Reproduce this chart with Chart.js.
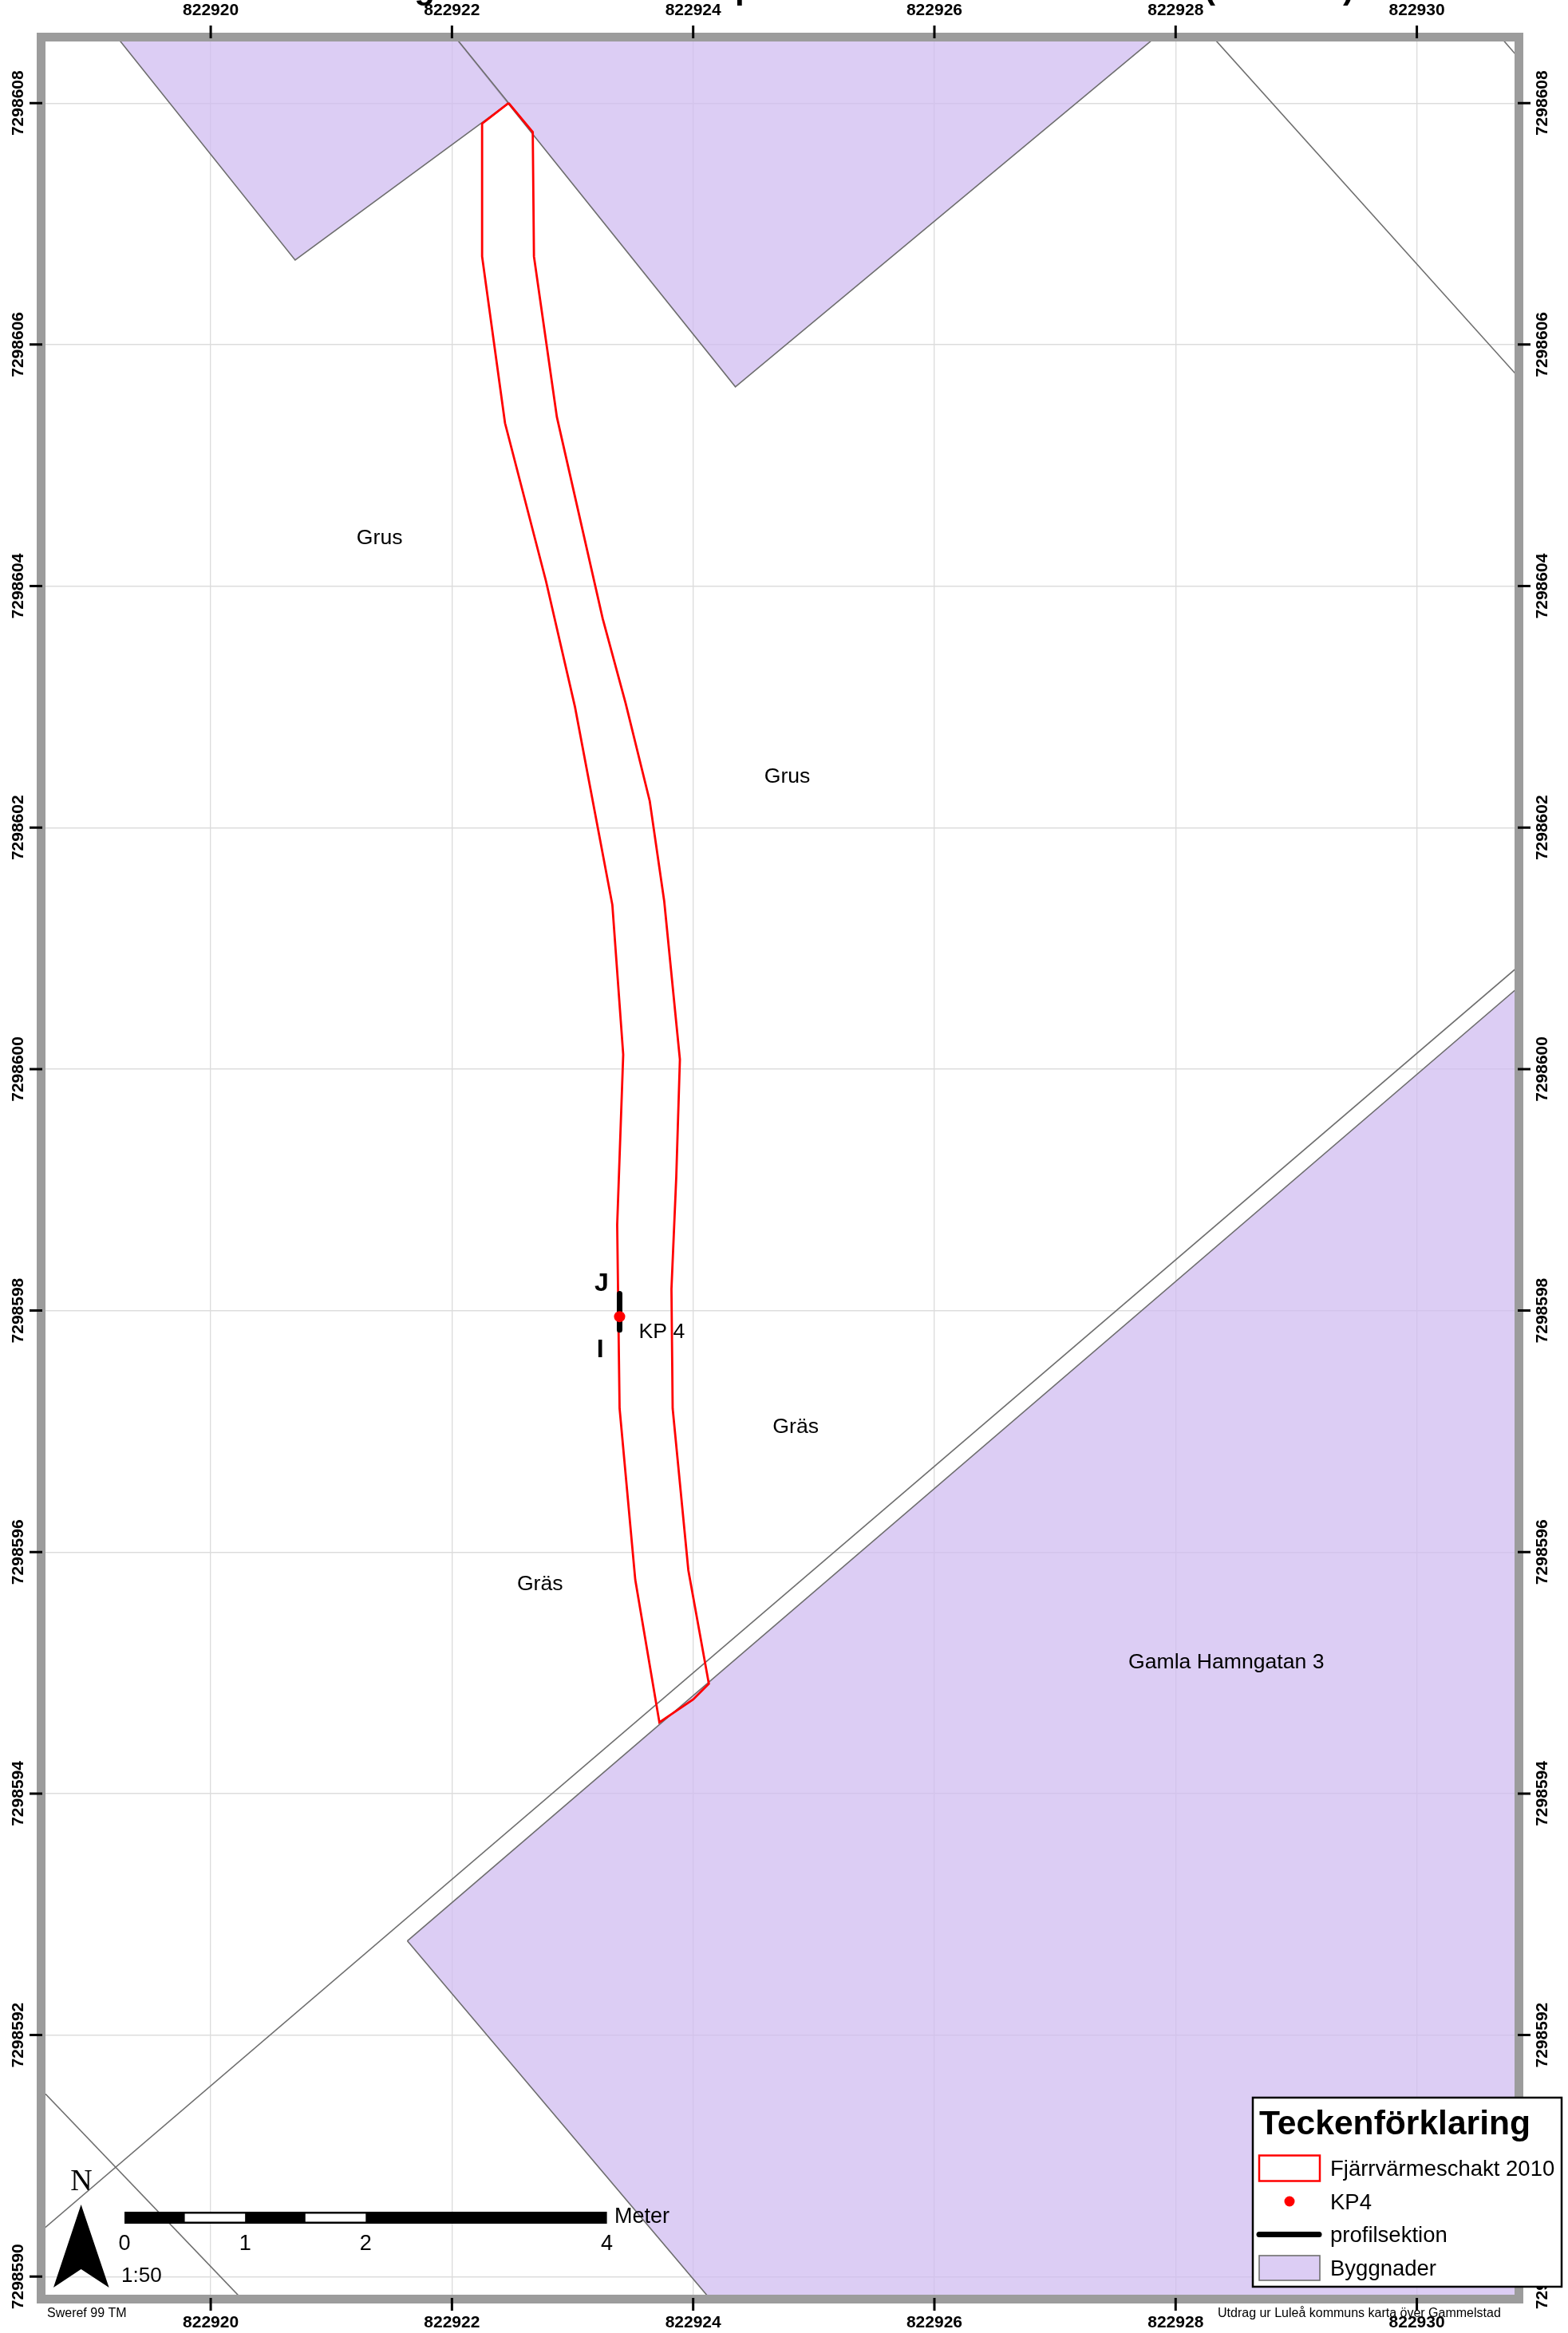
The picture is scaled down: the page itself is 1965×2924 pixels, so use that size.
<!DOCTYPE html>
<html>

<head>
    <meta charset="utf-8">
    <title>Teckenförklaring</title>
    <script src="https://cdn.jsdelivr.net/npm/chart.js@4"></script>
    <style>
        html, body { margin: 0; padding: 0; background: #fff; }
        canvas { display: block; }
    </style>
</head>

<body>
    <canvas id="karta" width="1965" height="2924"></canvas>

    <script>
        var xTicks = [822920, 822922, 822924, 822926, 822928, 822930];
        var yTicks = [7298590, 7298592, 7298594, 7298596, 7298598, 7298600, 7298602, 7298604, 7298606, 7298608];

        // schaktet, medurs fran toppen
        var schaktX = [822922.47, 822922.67, 822922.68, 822922.87, 822923.25, 822923.44, 822923.64, 822923.76, 822923.89,
            822923.86, 822923.82, 822923.83, 822923.96, 822924.13, 822924.00, 822923.72, 822923.52, 822923.39, 822923.37,
            822923.42, 822923.33, 822923.02, 822922.78, 822922.44, 822922.25, 822922.25, 822922.47];
        var schaktY = [7298608.00, 7298607.76, 7298606.73, 7298605.40, 7298603.73, 7298603.03, 7298602.22, 7298601.39, 7298600.08,
            7298599.11, 7298598.18, 7298597.19, 7298595.85, 7298594.91, 7298594.78, 7298594.59, 7298595.77, 7298597.19, 7298598.71,
            7298600.12, 7298601.36, 7298603.00, 7298604.04, 7298605.35, 7298606.73, 7298607.83, 7298608.00];

        var byggnadVastX = [822918.86, 822920.70, 822922.47, 822921.66, 822918.86];
        var byggnadVastY = [7298609.00, 7298606.70, 7298608.00, 7298609.00, 7298609.00];
        var byggnadMittX = [822921.66, 822924.35, 822928.38, 822921.66];
        var byggnadMittY = [7298609.00, 7298605.65, 7298609.00, 7298609.00];
        var byggnadSydX = [822921.63, 822932.00, 822932.00, 822924.83, 822921.63];
        var byggnadSydY = [7298592.78, 7298601.67, 7298589.00, 7298589.00, 7298592.78];

        var linjeNo1X = [822927.90, 822931.50];
        var linjeNo1Y = [7298609.00, 7298605.00];
        var linjeNo2X = [822930.30, 822931.30];
        var linjeNo2Y = [7298609.00, 7298607.85];
        var linjeDiagX = [822918.00, 822932.00];
        var linjeDiagY = [7298589.87, 7298601.84];
        var linjeSvX = [822918.00, 822921.00];
        var linjeSvY = [7298592.17, 7298589.04];

        var profilX = [822923.39, 822923.39];
        var profilY = [7298598.14, 7298597.84];
        var kpX = [822923.39];
        var kpY = [7298597.95];

        var textNamn = ['Grus', 'Grus', 'Gräs', 'Gräs', 'Gamla Hamngatan 3', 'KP 4'];
        var textX = [822921.40, 822924.78, 822924.85, 822922.73, 822928.42, 822923.74];
        var textY = [7298604.41, 7298602.44, 7298597.05, 7298595.75, 7298595.10, 7298597.84];
        var sektionNamn = ['J', 'I'];
        var sektionX = [822923.24, 822923.23];
        var sektionY = [7298598.24, 7298597.69];

        var legendNamn = ['Fjärrvärmeschakt 2010', 'KP4', 'profilsektion', 'Byggnader'];
        var skalaTal = [0, 1, 2, 4];

        var LILA = 'rgba(208, 188, 240, 0.75)';
        var RAM = '#9c9c9c';
        var LINJE = '#6e6e6e';
        var SANS = '"Liberation Sans", Arial, sans-serif';

        function punkter(xs, ys) {
            return xs.map(function (x, i) { return { x: x, y: ys[i] }; });
        }

        function linje(namn, xs, ys, farg, bredd) {
            return {
                label: namn,
                data: punkter(xs, ys),
                showLine: true,
                borderColor: farg,
                borderWidth: bredd,
                pointRadius: 0,
                fill: false
            };
        }

        function yta(namn, xs, ys) {
            var d = linje(namn, xs, ys, LINJE, 1.6);
            d.backgroundColor = LILA;
            d.fill = 'shape';
            return d;
        }

        var profil = linje(legendNamn[2], profilX, profilY, '#000', 7);
        profil.borderCapStyle = 'round';

        var datasets = [
            {
                label: legendNamn[1],
                data: punkter(kpX, kpY),
                pointRadius: 7,
                pointBackgroundColor: '#ff0000',
                pointBorderWidth: 0
            },
            profil,
            linje(legendNamn[0], schaktX, schaktY, '#ff0000', 2.8),
            linje('linje', linjeNo1X, linjeNo1Y, LINJE, 1.6),
            linje('linje', linjeNo2X, linjeNo2Y, LINJE, 1.6),
            linje('linje', linjeDiagX, linjeDiagY, LINJE, 1.6),
            linje('linje', linjeSvX, linjeSvY, LINJE, 1.6),
            yta(legendNamn[3], byggnadVastX, byggnadVastY),
            yta(legendNamn[3], byggnadMittX, byggnadMittY),
            yta(legendNamn[3], byggnadSydX, byggnadSydY)
        ];

        function axel(position, varden, min, max, storlek, padding) {
            var vertikal = position === 'left' || position === 'right';
            return {
                type: 'linear',
                axis: vertikal ? 'y' : 'x',
                position: position,
                min: min,
                max: max,
                afterBuildTicks: function (scale) {
                    scale.ticks = varden.map(function (v) { return { value: v }; });
                },
                afterFit: function (scale) {
                    if (vertikal) { scale.width = storlek; } else { scale.height = storlek; }
                },
                border: { display: false },
                grid: { color: '#dcdcdc', lineWidth: 1.2, drawTicks: false },
                ticks: {
                    autoSkip: false,
                    color: '#000',
                    font: { family: SANS, size: 21, weight: 'bold' },
                    padding: padding,
                    minRotation: vertikal ? 90 : 0,
                    maxRotation: vertikal ? 90 : 0,
                    crossAlign: vertikal ? 'center' : 'near',
                    callback: function (v) { return String(v); }
                }
            };
        }

        function rakText(ctx, text, x, y, font, align) {
            ctx.font = font;
            ctx.textAlign = align || 'left';
            ctx.textBaseline = 'alphabetic';
            ctx.fillStyle = '#000';
            ctx.fillText(text, x, y);
        }

        var kartRam = {
            id: 'kartRam',
            afterDraw: function (chart) {
                var ctx = chart.ctx;
                var a = chart.chartArea;
                var sx = chart.scales.x;
                var sy = chart.scales.y;
                ctx.save();

                // ram runt kartan
                ctx.strokeStyle = RAM;
                ctx.lineWidth = 11;
                ctx.strokeRect(a.left - 5.5, a.top - 5.5, a.right - a.left + 11, a.bottom - a.top + 11);

                // rutnatets markeringar
                ctx.strokeStyle = '#000';
                ctx.lineWidth = 3;
                ctx.beginPath();
                xTicks.forEach(function (v) {
                    var px = sx.getPixelForValue(v);
                    ctx.moveTo(px, a.top - 4); ctx.lineTo(px, a.top - 20);
                    ctx.moveTo(px, a.bottom + 4); ctx.lineTo(px, a.bottom + 20);
                });
                yTicks.forEach(function (v) {
                    var py = sy.getPixelForValue(v);
                    ctx.moveTo(a.left - 4, py); ctx.lineTo(a.left - 20, py);
                    ctx.moveTo(a.right + 4, py); ctx.lineTo(a.right + 20, py);
                });
                ctx.stroke();

                // kartetiketter
                textNamn.forEach(function (t, i) {
                    rakText(ctx, t, sx.getPixelForValue(textX[i]), sy.getPixelForValue(textY[i]) + 10, '26.6px ' + SANS, 'center');
                });
                sektionNamn.forEach(function (t, i) {
                    rakText(ctx, t, sx.getPixelForValue(sektionX[i]), sy.getPixelForValue(sektionY[i]) + 12, 'bold 32px ' + SANS, 'center');
                });

                // rubriken ar avskuren i bildens overkant
                var rubrik = 'bold 42px ' + SANS;
                rakText(ctx, 'g', 532, -2, rubrik, 'center');
                rakText(ctx, 'p', 921, -2, rubrik, 'left');
                rakText(ctx, '(', 1516, -2, rubrik, 'center');
                rakText(ctx, ')', 1690, -2, rubrik, 'center');

                // norrpil
                rakText(ctx, 'N', 102, 2745, '38px "Liberation Serif", serif', 'center');
                ctx.fillStyle = '#000';
                ctx.beginPath();
                ctx.moveTo(101.6, 2763);
                ctx.lineTo(136.6, 2867);
                ctx.lineTo(101.6, 2844);
                ctx.lineTo(67, 2867);
                ctx.closePath();
                ctx.fill();

                // skalstock
                var meter = sx.getPixelForValue(822921) - sx.getPixelForValue(822920);
                var sx0 = 156;
                ctx.fillStyle = '#000';
                ctx.fillRect(sx0, 2772, 4 * meter, 15);
                ctx.fillStyle = '#fff';
                ctx.fillRect(sx0 + 0.5 * meter, 2774.5, 0.5 * meter, 10);
                ctx.fillRect(sx0 + 1.5 * meter, 2774.5, 0.5 * meter, 10);
                skalaTal.forEach(function (t) {
                    rakText(ctx, String(t), sx0 + t * meter, 2820, '27px ' + SANS, 'center');
                });
                rakText(ctx, 'Meter', 770, 2786, '27px ' + SANS);
                rakText(ctx, '1:50', 152, 2860, '26px ' + SANS);

                // smatext
                rakText(ctx, 'Sweref 99 TM', 59, 2904, '16px ' + SANS);
                rakText(ctx, 'Utdrag ur Luleå kommuns karta över Gammelstad', 1526, 2904, '16px ' + SANS);

                // teckenforklaring
                ctx.fillStyle = '#fff';
                ctx.fillRect(1570, 2629, 387, 237);
                ctx.strokeStyle = '#000';
                ctx.lineWidth = 2.5;
                ctx.strokeRect(1570, 2629, 387, 237);
                rakText(ctx, 'Teckenförklaring', 1578, 2675, 'bold 42.6px ' + SANS);

                ctx.strokeStyle = '#ff0000';
                ctx.lineWidth = 2.5;
                ctx.strokeRect(1578, 2701.5, 76, 32);
                rakText(ctx, legendNamn[0], 1667, 2727, '27.5px ' + SANS);

                ctx.fillStyle = '#ff0000';
                ctx.beginPath();
                ctx.arc(1616, 2759, 6.5, 0, Math.PI * 2);
                ctx.fill();
                rakText(ctx, legendNamn[1], 1667, 2769, '27.5px ' + SANS);

                ctx.strokeStyle = '#000';
                ctx.lineWidth = 7;
                ctx.lineCap = 'round';
                ctx.beginPath();
                ctx.moveTo(1578, 2800.5);
                ctx.lineTo(1653, 2800.5);
                ctx.stroke();
                ctx.lineCap = 'butt';
                rakText(ctx, legendNamn[2], 1667, 2810, '27.5px ' + SANS);

                ctx.fillStyle = '#dccdf4';
                ctx.fillRect(1578, 2827, 76, 31);
                ctx.strokeStyle = LINJE;
                ctx.lineWidth = 1.6;
                ctx.strokeRect(1578, 2827, 76, 31);
                rakText(ctx, legendNamn[3], 1667, 2852, '27.5px ' + SANS);

                ctx.restore();
            }
        };

        var ctx = document.getElementById('karta').getContext('2d');
        var karta = new Chart(ctx, {
            type: 'scatter',
            data: { datasets: datasets },
            options: {
                responsive: false,
                animation: false,
                devicePixelRatio: 1,
                layout: { padding: 0 },
                plugins: {
                    legend: { display: false },
                    tooltip: { enabled: false }
                },
                scales: {
                    x: axel('bottom', xTicks, 822918.63, 822930.81, 48, 23),
                    x2: axel('top', xTicks, 822918.63, 822930.81, 52, 26),
                    y: axel('left', yTicks, 7298589.85, 7298608.51, 57, -7),
                    y2: axel('right', yTicks, 7298589.85, 7298608.51, 67, -6)
                }
            },
            plugins: [kartRam]
        });
    </script>
</body>

</html>
